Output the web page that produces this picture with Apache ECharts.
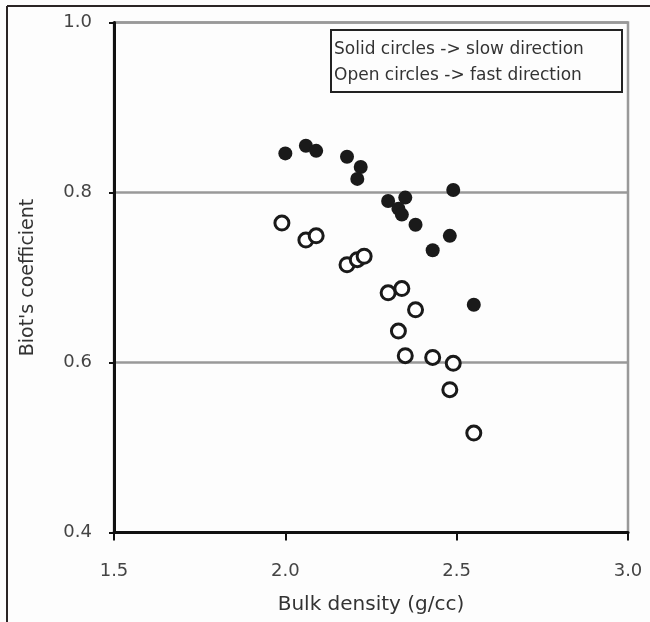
<!DOCTYPE html>
<html>
<head>
<meta charset="utf-8">
<script src="https://cdn.jsdelivr.net/npm/echarts@6/dist/echarts.min.js"></script>
<style>
  html, body { margin: 0; padding: 0; background: #fdfdfd; }
  #chart { width: 650px; height: 622px; }
</style>
</head>
<body>
<div id="chart"></div>
<script>
// Bulk density (g/cc) and Biot's coefficient, slow direction (solid circles)
var slowDensity = [2.00, 2.06, 2.09, 2.18, 2.22, 2.21, 2.49, 2.30, 2.35, 2.33, 2.34, 2.38, 2.48, 2.43, 2.55];
var slowBiot    = [0.846, 0.855, 0.849, 0.842, 0.830, 0.816, 0.803, 0.790, 0.794, 0.781, 0.774, 0.762, 0.749, 0.732, 0.668];

// Fast direction (open circles)
var fastDensity = [1.99, 2.06, 2.09, 2.18, 2.21, 2.23, 2.30, 2.34, 2.38, 2.33, 2.35, 2.43, 2.49, 2.48, 2.55];
var fastBiot    = [0.764, 0.744, 0.749, 0.715, 0.721, 0.725, 0.682, 0.687, 0.662, 0.637, 0.608, 0.606, 0.599, 0.568, 0.517];

var xTicks = [1.5, 2.0, 2.5, 3.0];
var yTicks = [0.4, 0.6, 0.8, 1.0];
var legendLines = ['Solid circles -> slow direction', 'Open circles -> fast direction'];

function pairs(xs, ys) {
  return xs.map(function (x, i) { return [x, ys[i]]; });
}

var font = 'DejaVu Sans';
var chart = echarts.init(document.getElementById('chart'));

chart.setOption({
  backgroundColor: '#fdfdfd',
  animation: false,
  grid: {
    left: 114, right: 22, top: 22.5, bottom: 89.5,
    show: true, borderColor: '#999', borderWidth: 2.5, backgroundColor: 'transparent'
  },
  xAxis: {
    type: 'value',
    min: xTicks[0], max: xTicks[xTicks.length - 1], interval: 0.5,
    name: 'Bulk density (g/cc)',
    nameLocation: 'middle', nameGap: 62,
    nameTextStyle: { fontFamily: font, fontSize: 20, color: '#333' },
    axisLine: { show: true, onZero: false, lineStyle: { color: '#111', width: 3 } },
    axisTick: { show: true, inside: false, length: 8, lineStyle: { color: '#111', width: 2 } },
    axisLabel: {
      margin: 30, fontFamily: font, fontSize: 18, color: '#444',
      formatter: function (v) { return v.toFixed(1); }
    },
    splitLine: { show: false }
  },
  yAxis: {
    type: 'value',
    min: yTicks[0], max: yTicks[yTicks.length - 1], interval: 0.2,
    name: "Biot's coefficient",
    nameLocation: 'middle', nameGap: 76,
    nameTextStyle: { fontFamily: font, fontSize: 19, color: '#333' },
    axisLine: { show: true, onZero: false, lineStyle: { color: '#111', width: 3 } },
    axisTick: { show: true, inside: false, length: 5, lineStyle: { color: '#111', width: 2 } },
    axisLabel: {
      margin: 22, fontFamily: font, fontSize: 18, color: '#444',
      formatter: function (v) { return v.toFixed(1); }
    },
    splitLine: { show: true, lineStyle: { color: '#999', width: 2.5 } }
  },
  series: [
    {
      name: 'slow', type: 'scatter', symbol: 'circle', symbolSize: 14,
      itemStyle: { color: '#1a1a1a', opacity: 1 },
      data: pairs(slowDensity, slowBiot), z: 3
    },
    {
      name: 'fast', type: 'scatter', symbol: 'circle', symbolSize: 14,
      itemStyle: { color: '#ffffff', borderColor: '#1a1a1a', borderWidth: 3, opacity: 1 },
      data: pairs(fastDensity, fastBiot), z: 4
    }
  ],
  graphic: [
    // outer frame (left and top edges)
    { type: 'line', shape: { x1: 7, y1: 6, x2: 7, y2: 622 }, style: { stroke: '#2a2525', lineWidth: 2 }, silent: true },
    { type: 'line', shape: { x1: 7, y1: 6, x2: 650, y2: 6 }, style: { stroke: '#2a2525', lineWidth: 2 }, silent: true },
    // key box
    {
      type: 'group', left: 330, top: 29, silent: true, z: 10,
      children: [
        { type: 'rect', shape: { x: 0, y: 0, width: 291, height: 62 },
          style: { fill: '#fdfdfd', stroke: '#222', lineWidth: 2 } },
        { type: 'text', x: 3, y: 20,
          style: { text: legendLines[0], fontFamily: font, fontSize: 17, fill: '#333', textVerticalAlign: 'middle', verticalAlign: 'middle' } },
        { type: 'text', x: 3, y: 46,
          style: { text: legendLines[1], fontFamily: font, fontSize: 17, fill: '#333', textVerticalAlign: 'middle', verticalAlign: 'middle' } }
      ]
    }
  ]
});
</script>
</body>
</html>
